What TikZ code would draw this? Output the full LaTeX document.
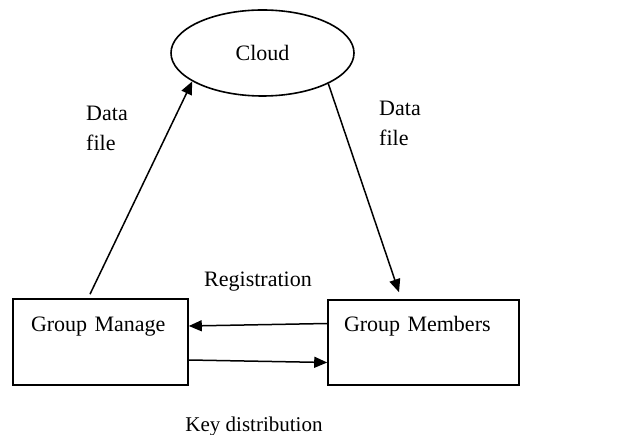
\documentclass[tikz,border=0pt]{standalone}
\usepackage{fontspec}
\setmainfont{Liberation Serif}
\usetikzlibrary{arrows.meta,shapes.geometric,calc}

\tikzset{
    box/.style={draw, rectangle, line width=1.6pt, align=left},
    arr/.style={-{Triangle[length=13pt,width=11pt]}, line width=1.5pt},
    lbl/.style={align=left, font=\fontsize{22}{30}\selectfont}
}

\begin{document}
\begin{tikzpicture}[x=1pt,y=-1pt]
    \useasboundingbox (0,0) rectangle (637,435);

    \node[draw, ellipse, line width=1.6pt, minimum width=183pt, minimum height=86pt, font=\fontsize{22}{26}\selectfont] (cloud) at (262.5,53) {Cloud};

    \node[box, text width=139pt, inner xsep=18pt, minimum height=86pt, font=\fontsize{22}{28}\selectfont] (manage) at (100.5,342) {Group Manage\\\strut};

    \node[box, text width=159pt, inner xsep=16pt, minimum height=85pt, font=\fontsize{22}{28}\selectfont] (members) at (423.5,342.5) {Group Members\\\strut};

    \node[lbl] (upfile) at (107,128) {Data\\ file};
    \node[lbl] (downfile) at (400,123) {Data\\ file};
    \node[font=\fontsize{22}{26}\selectfont] (reg) at (258,282) {Registration};
    \node[font=\fontsize{21}{25}\selectfont] (keydist) at (254,426) {Key distribution};

    \draw[arr] ($(manage.north)+(-10.5,-4)$) -- (cloud.202);
    \draw[arr] (cloud.-25) -- ($(members.north)+(-24.5,-7)$);
    \draw[arr] ($(members.west)+(0,-19)$) -- ($(manage.east)+(0,-16)$);
    \draw[arr] ($(manage.east)+(0,18)$) -- ($(members.west)+(0,20)$);

\end{tikzpicture}
\end{document}
